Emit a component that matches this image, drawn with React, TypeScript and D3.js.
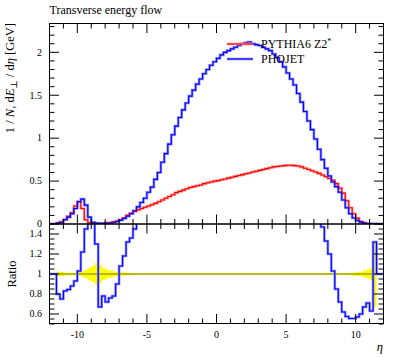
import React from 'react';
import * as d3 from 'd3';

// ---- data (bins of width 0.25 in eta, from -12 to 12) ----
const ETA_START = -12;
const BIN_WIDTH = 0.25;

const pythiaZ2 = [
  0, 0, 0.012, 0.025, 0.05, 0.09, 0.13, 0.21, 0.26, 0.18,
  0.05, 0.015, 0.008, 0.006, 0.006, 0.007, 0.01, 0.015, 0.022, 0.035,
  0.05, 0.07, 0.1, 0.125, 0.145, 0.165, 0.18, 0.195, 0.21, 0.225,
  0.24, 0.26, 0.28, 0.3, 0.32, 0.34, 0.365, 0.38, 0.395, 0.41,
  0.425, 0.435, 0.445, 0.455, 0.47, 0.48, 0.49, 0.5, 0.505, 0.515,
  0.525, 0.535, 0.545, 0.555, 0.565, 0.575, 0.585, 0.595, 0.605, 0.615,
  0.625, 0.635, 0.645, 0.655, 0.665, 0.67, 0.675, 0.68, 0.685, 0.685,
  0.68, 0.675, 0.665, 0.65, 0.635, 0.62, 0.605, 0.59, 0.57, 0.55,
  0.53, 0.51, 0.47, 0.42, 0.36, 0.27, 0.19, 0.12, 0.065, 0.03,
  0.014, 0.006, 0.002, 0.001, 0, 0,
];

const phojet = [
  0, 0, 0.01, 0.02, 0.05, 0.08, 0.12, 0.18, 0.26, 0.29,
  0.22, 0.08, 0.02, 0.01, 0.008, 0.008, 0.01, 0.012, 0.02, 0.03,
  0.045, 0.065, 0.09, 0.12, 0.155, 0.2, 0.25, 0.3, 0.37, 0.43,
  0.52, 0.6, 0.72, 0.82, 0.93, 1.04, 1.14, 1.24, 1.33, 1.41,
  1.49, 1.56, 1.63, 1.69, 1.75, 1.8, 1.85, 1.89, 1.93, 1.97,
  2.0, 2.02, 2.04, 2.06, 2.08, 2.1, 2.11, 2.12, 2.1, 2.09,
  2.08, 2.06, 2.04, 2.02, 1.98, 1.94, 1.89, 1.83, 1.76, 1.69,
  1.62, 1.52, 1.42, 1.31, 1.2, 1.1, 0.99, 0.87, 0.75, 0.65,
  0.56, 0.49, 0.435, 0.37, 0.28, 0.19, 0.12, 0.07, 0.04, 0.022,
  0.012, 0.006, 0.003, 0.001, 0, 0,
];

// PHOJET / PYTHIA6 Z2* (values above 1.5 run off the panel)
const ratioPhojet = [
  1, 1, 0.8, 0.75, 0.83, 0.845, 0.88, 0.93, 1.03, 1.22,
  1.45, 2, 2, 1.3, 0.67, 0.78, 0.72, 0.76, 0.78, 0.9,
  1.08, 1.18, 1.32, 1.36, 1.45, 2, 2, 2, 2, 2,
  2, 2, 2, 2, 2, 2, 2, 2, 2, 2,
  2, 2, 2, 2, 2, 2, 2, 2, 2, 2,
  2, 2, 2, 2, 2, 2, 2, 2, 2, 2,
  2, 2, 2, 2, 2, 2, 2, 2, 2, 2,
  2, 2, 2, 2, 2, 2, 2, 2, 1.47, 1.33,
  1.2, 1.03, 0.85, 0.72, 0.62, 0.575, 0.555, 0.555, 0.57, 0.6,
  0.67, 0.71, 0.63, 1.32, 1, 1,
];

// relative uncertainty of the reference (yellow band half-width)
const refBand = [
  0, 0, 0.025, 0.02, 0.015, 0.012, 0.012, 0.012, 0.015, 0.025,
  0.04, 0.06, 0.08, 0.11, 0.09, 0.06, 0.045, 0.035, 0.028, 0.022,
  0.018, 0.015, 0.012, 0.01, 0.008, 0.006, 0.006, 0.006, 0.006, 0.006,
  0.006, 0.004, 0.004, 0.004, 0.004, 0.004, 0.004, 0.004, 0.004, 0.004,
  0.004, 0.004, 0.004, 0.004, 0.004, 0.004, 0.004, 0.004, 0.004, 0.004,
  0.004, 0.004, 0.004, 0.004, 0.004, 0.004, 0.004, 0.004, 0.004, 0.004,
  0.004, 0.004, 0.004, 0.004, 0.004, 0.004, 0.004, 0.004, 0.004, 0.004,
  0.004, 0.005, 0.005, 0.005, 0.005, 0.005, 0.005, 0.005, 0.005, 0.005,
  0.005, 0.006, 0.007, 0.008, 0.009, 0.01, 0.012, 0.015, 0.018, 0.022,
  0.03, 0.045, 0.06, 0.33, 0, 0,
];

const xMajorTicks = [-10, -5, 0, 5, 10];
const xTickLabels = ['-10', '-5', '0', '5', '10'];
const yMainTicks = [0, 0.5, 1, 1.5, 2];
const yMainLabels = ['0', '0.5', '1', '1.5', '2'];
const yRatioTicks = [0.6, 0.8, 1, 1.2, 1.4];
const yRatioLabels = ['0.6', '0.8', '1', '1.2', '1.4'];
const legendNames = ['PYTHIA6 Z2', 'PHOJET'];
const titleText = 'Transverse energy flow';

const FONT = '"Liberation Serif", "DejaVu Serif", serif';

export default function App() {
  const W = 397, H = 358;
  const L = 49.5, R = 383.5, T = 23.5, MID = 224, B = 323.5;
  const MAJ = 9.5, MIN = 5;

  const x = d3.scaleLinear().domain([-12, 12]).range([L, R]);
  const y = d3.scaleLinear().domain([0, 2.33]).range([MID, T + 0.5]);
  const yr = d3.scaleLinear().domain([0.5, 1.5]).range([B + 0.5, MID]);

  const edges = d3.range(pythiaZ2.length + 1).map((i) => ETA_START + i * BIN_WIDTH);
  const stepPts = (vals: number[]) => [
    ...vals.map((v, i) => [edges[i], v] as [number, number]),
    [edges[vals.length], vals[vals.length - 1]] as [number, number],
  ];

  const lineMain = d3.line<[number, number]>().x((d) => x(d[0])).y((d) => y(d[1])).curve(d3.curveStepAfter);
  const lineRatio = d3.line<[number, number]>().x((d) => x(d[0])).y((d) => yr(d[1])).curve(d3.curveStepAfter);
  const bandPts = [
    ...refBand.map((b, i) => [edges[i], b] as [number, number]),
    [edges[refBand.length], refBand[refBand.length - 1]] as [number, number],
  ];
  const bandArea = d3
    .area<[number, number]>()
    .x((d) => x(d[0]))
    .y0((d) => yr(1 - d[1]))
    .y1((d) => yr(1 + d[1]))
    .curve(d3.curveStepAfter);

  const xMinor = d3.range(-12, 13, 1).filter((v) => !xMajorTicks.includes(v));
  const yMainMinor = d3.range(0, 2.33, 0.1).map((v) => +v.toFixed(2)).filter((v) => !yMainTicks.some((t) => Math.abs(t - v) < 1e-6));
  const yRatioMinor = d3.range(0.5, 1.5001, 0.05).map((v) => +v.toFixed(2)).filter((v) => !yRatioTicks.some((t) => Math.abs(t - v) < 1e-6));

  const blue = '#0000ff';
  const blueHalo = '#8c8cff';
  const red = '#ff0000';
  const redHalo = '#ff9a9a';

  const tickStroke = { stroke: '#000', strokeWidth: 1 };

  const xTicksFor = (top: number, bottom: number) => (
    <g>
      {xMajorTicks.map((t) => (
        <g key={'M' + t}>
          <line x1={x(t)} x2={x(t)} y1={bottom} y2={bottom - MAJ} {...tickStroke} />
          <line x1={x(t)} x2={x(t)} y1={top} y2={top + MAJ} {...tickStroke} />
        </g>
      ))}
      {xMinor.map((t) => (
        <g key={'m' + t}>
          <line x1={x(t)} x2={x(t)} y1={bottom} y2={bottom - MIN} {...tickStroke} />
          <line x1={x(t)} x2={x(t)} y1={top} y2={top + MIN} {...tickStroke} />
        </g>
      ))}
    </g>
  );

  const yTicksFor = (scale: d3.ScaleLinear<number, number>, major: number[], minor: number[]) => (
    <g>
      {major.map((t) => (
        <g key={'M' + t}>
          <line x1={L} x2={L + MAJ} y1={scale(t)} y2={scale(t)} {...tickStroke} />
          <line x1={R} x2={R - MAJ} y1={scale(t)} y2={scale(t)} {...tickStroke} />
        </g>
      ))}
      {minor.map((t) => (
        <g key={'m' + t}>
          <line x1={L} x2={L + MIN} y1={scale(t)} y2={scale(t)} {...tickStroke} />
          <line x1={R} x2={R - MIN} y1={scale(t)} y2={scale(t)} {...tickStroke} />
        </g>
      ))}
    </g>
  );

  return (
    <svg width={W} height={H} style={{ position: 'absolute', left: 0, top: 0, background: '#fff' }} fontFamily={FONT}>
      <defs>
        <clipPath id="ratioClip">
          <rect x={L} y={MID} width={R - L} height={B - MID} />
        </clipPath>
        <clipPath id="mainClip">
          <rect x={L} y={T} width={R - L} height={MID - T} />
        </clipPath>
      </defs>

      {/* title */}
      <text x={L} y={14} fontSize={12}>{titleText}</text>

      {/* main panel curves */}
      <g clipPath="url(#mainClip)">
        <path d={lineMain(stepPts(pythiaZ2)) || ''} fill="none" stroke={redHalo} strokeWidth={2.6} />
        <path d={lineMain(stepPts(phojet)) || ''} fill="none" stroke={blueHalo} strokeWidth={2.6} />
        <path d={lineMain(stepPts(pythiaZ2)) || ''} fill="none" stroke={red} strokeWidth={1.1} />
        <path d={lineMain(stepPts(phojet)) || ''} fill="none" stroke={blue} strokeWidth={1.1} />
      </g>

      {/* ratio panel */}
      <g clipPath="url(#ratioClip)">
        <path d={bandArea(bandPts) || ''} fill="#ffff00" stroke="none" />
        <line x1={L} x2={R} y1={yr(1)} y2={yr(1)} stroke="#a3a300" strokeWidth={1.4} />
        <path d={lineRatio(stepPts(ratioPhojet)) || ''} fill="none" stroke={blueHalo} strokeWidth={2.6} />
        <path d={lineRatio(stepPts(ratioPhojet)) || ''} fill="none" stroke={blue} strokeWidth={1.1} />
      </g>

      {/* frames */}
      <rect x={L} y={T} width={R - L} height={MID - T} fill="none" stroke="#000" strokeWidth={1} />
      <rect x={L} y={MID} width={R - L} height={B - MID} fill="none" stroke="#000" strokeWidth={1} />

      {/* ticks */}
      {xTicksFor(T, MID)}
      {xTicksFor(MID, B)}
      {yTicksFor(y, yMainTicks, yMainMinor)}
      {yTicksFor(yr, yRatioTicks, yRatioMinor)}

      {/* tick labels */}
      {yMainTicks.map((t, i) => (
        <text key={'yl' + t} x={42} y={y(t)} dy="0.33em" textAnchor="end" fontSize={10}>{yMainLabels[i]}</text>
      ))}
      {yRatioTicks.map((t, i) => (
        <text key={'yr' + t} x={42} y={yr(t)} dy="0.33em" textAnchor="end" fontSize={10}>{yRatioLabels[i]}</text>
      ))}
      {xMajorTicks.map((t, i) => (
        <text key={'xl' + t} x={x(t)} y={338} textAnchor="middle" fontSize={10}>{xTickLabels[i]}</text>
      ))}

      {/* axis labels */}
      <text transform={`translate(14,23) rotate(-90)`} textAnchor="end" fontSize={12.5}>
        1 / <tspan fontStyle="italic">N</tspan>, d<tspan fontStyle="italic">E</tspan>
        <tspan dy={2.5} fontSize={9}>⊥</tspan>
        <tspan dy={-2.5}> / d</tspan><tspan fontStyle="italic">η</tspan> [GeV]
      </text>
      <text transform={`translate(16,${yr(1)}) rotate(-90)`} textAnchor="middle" fontSize={12.5}>Ratio</text>
      <text x={383} y={351} textAnchor="end" fontSize={12.5} fontStyle="italic">η</text>

      {/* legend */}
      <line x1={227} x2={253} y1={44} y2={44} stroke={redHalo} strokeWidth={2.6} />
      <line x1={227} x2={253} y1={44} y2={44} stroke={red} strokeWidth={1.1} />
      <text x={261} y={48} fontSize={12}>{legendNames[0]}<tspan dy={-4} fontSize={8}>*</tspan></text>
      <line x1={227} x2={253} y1={59} y2={59} stroke={blueHalo} strokeWidth={2.6} />
      <line x1={227} x2={253} y1={59} y2={59} stroke={blue} strokeWidth={1.1} />
      <text x={261} y={63} fontSize={12}>{legendNames[1]}</text>
    </svg>
  );
}
